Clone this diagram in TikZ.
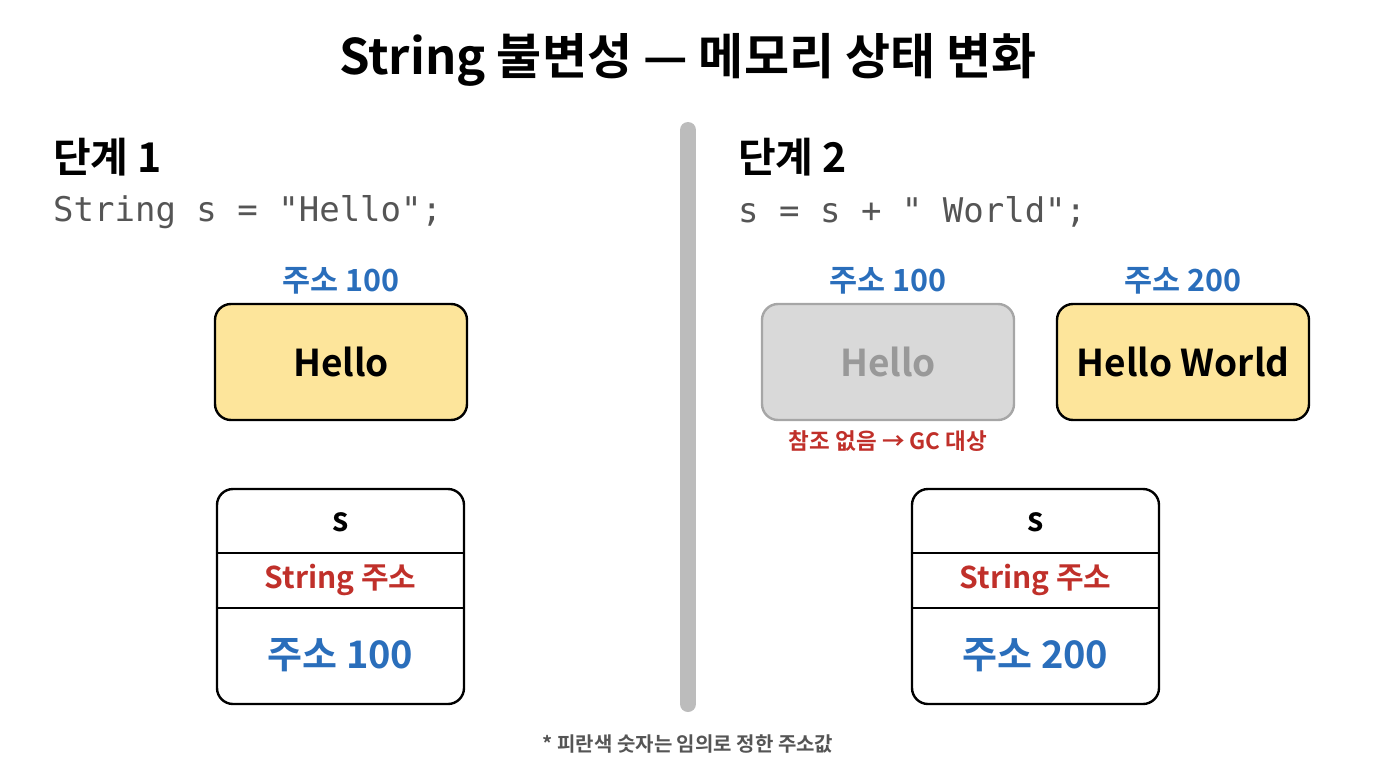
\documentclass[tikz,border=0pt]{standalone}
\usepackage{fontspec}
\setmainfont{Noto Sans CJK KR}[BoldFont={Noto Sans CJK KR Bold}]
\setmonofont{DejaVu Sans Mono}
\definecolor{addrblue}{HTML}{2A6EBB}
\definecolor{refred}{HTML}{C0302A}
\definecolor{heapyellow}{HTML}{FDE59B}
\definecolor{deadfill}{HTML}{D9D9D9}
\definecolor{deadline}{HTML}{A6A6A6}
\definecolor{codegray}{HTML}{555555}
\begin{document}
\begin{tikzpicture}[x=1pt, y=-1pt,
  every node/.style={inner sep=0pt},
  heapbox/.style={draw, line width=2.4pt, rounded corners=16pt, fill=heapyellow,
    minimum width=252pt, minimum height=116pt, font=\fontsize{37}{42}\selectfont\bfseries},
  varbox/.style={draw, line width=2.4pt, rounded corners=16pt, fill=white,
    minimum width=247pt, minimum height=215pt},
  addr/.style={text=addrblue, font=\fontsize{30.5}{34}\selectfont\bfseries},
  code/.style={anchor=west, text=codegray, font=\fontsize{34}{40}\selectfont\ttfamily}]

\useasboundingbox (0,0) rectangle (1376,768);

\node[font=\fontsize{49}{56}\selectfont\bfseries] (title) at (688,60) {String 불변성 — 메모리 상태 변화};

% divider
\coordinate (divtop) at (688,130);
\coordinate (divbot) at (688,704);
\draw[line width=16pt, line cap=round, color=deadline!75] (divtop) -- (divbot);

% step 1
\node[anchor=west, font=\fontsize{41}{46}\selectfont\bfseries] (step1) at (53,157) {단계 1};
\node[code] (code1) at (53,212) {String s = "Hello";};

\node[addr] (addr1) at (341,281) {주소 100};
\node[heapbox] (hello1) at (341,362) {Hello};

\node[varbox] (var1) at (340.5,596.5) {};
\draw[line width=2pt] (var1.west |- 0,553) -- (var1.east |- 0,553);
\draw[line width=2pt] (var1.west |- 0,608) -- (var1.east |- 0,608);
\node[font=\fontsize{33}{38}\selectfont\bfseries] (name1) at (340.5,522) {s};
\node[text=refred, font=\fontsize{30}{34}\selectfont\bfseries] (type1) at (340.5,580) {String 주소};
\node[addr, font=\fontsize{38}{44}\selectfont\bfseries] (val1) at (340.5,655) {주소 100};

% step 2
\node[anchor=west, font=\fontsize{41}{46}\selectfont\bfseries] (step2) at (738,157) {단계 2};
\node[code] (code2) at (738,212) {s = s + " World";};

\node[addr] (addr2) at (888,281) {주소 100};
\node[heapbox, fill=deadfill, draw=deadline, text=black!40] (hello2) at (888,362) {Hello};
\node[text=refred, font=\fontsize{22.5}{26}\selectfont\bfseries] (gc) at (888,441) {참조 없음 → GC 대상};

\node[addr] (addr3) at (1183,281) {주소 200};
\node[heapbox] (world) at (1183,362) {Hello World};

\node[varbox] (var2) at (1035.5,596.5) {};
\draw[line width=2pt] (var2.west |- 0,553) -- (var2.east |- 0,553);
\draw[line width=2pt] (var2.west |- 0,608) -- (var2.east |- 0,608);
\node[font=\fontsize{33}{38}\selectfont\bfseries] (name2) at (1035.5,522) {s};
\node[text=refred, font=\fontsize{30}{34}\selectfont\bfseries] (type2) at (1035.5,580) {String 주소};
\node[addr, font=\fontsize{38}{44}\selectfont\bfseries] (val2) at (1035.5,655) {주소 200};

\node[text=codegray, font=\fontsize{20}{24}\selectfont\bfseries] (note) at (688,744) {* 피란색 숫자는 임의로 정한 주소값};
\end{tikzpicture}
\end{document}
